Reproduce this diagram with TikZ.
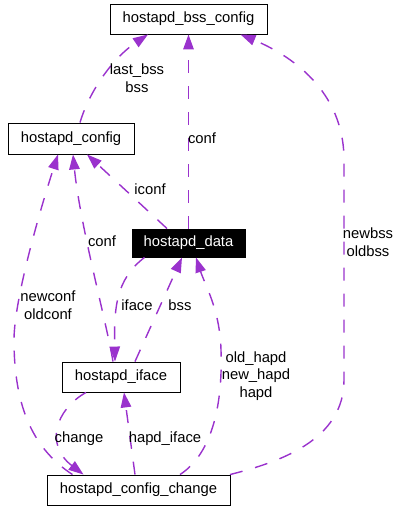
\documentclass[tikz,border=0pt]{standalone}
\usepackage{fontspec}
\setmainfont{Liberation Sans}
\usetikzlibrary{arrows.meta}
\definecolor{edgecol}{RGB}{154,50,205}
\begin{document}
\begin{tikzpicture}[x=1pt,y=-1pt,
  every node/.style={font=\fontsize{14.8}{17.5}\selectfont},
  box/.style={draw=black,line width=0.9pt,fill=white,inner sep=0pt,text=black},
  darkbox/.style={draw=black,line width=0.9pt,fill=black,inner sep=0pt,text=white},
  lbl/.style={inner sep=0pt,align=center},
  edge/.style={draw=edgecol,line width=1.4pt,dash pattern=on 13pt off 13pt,-{Triangle[length=15pt,width=10.5pt]}}]
\useasboundingbox (0,0) rectangle (394,506);
% nodes
\node[box, minimum width=157pt, minimum height=30pt] (bss) at (188.5,19) {hostapd\_bss\_config};
\node[box, minimum width=126pt, minimum height=31pt] (cfg) at (71,138.5) {hostapd\_config};
\node[darkbox, minimum width=113pt, minimum height=28pt] (data) at (188.5,243) {hostapd\_data};
\node[box, minimum width=118pt, minimum height=30pt] (iface) at (121,377) {hostapd\_iface};
\node[box, minimum width=183pt, minimum height=30pt] (chg) at (138.5,490) {hostapd\_config\_change};
% edges
\draw[edge] ([xshift=9pt]cfg.north) .. controls (88,95) and (110,60) .. ([xshift=-40.5pt]bss.south);
\draw[edge] (data.north) -- (bss.south);
\draw[edge] ([xshift=-0.5pt]chg.north east) .. controls (280,462) and (344,440) .. (344,380) -- (344,160) .. controls (344,90) and (290,55) .. ([xshift=52pt]bss.south);
\draw[edge] ([xshift=-21.5pt]data.north) -- ([xshift=16pt]cfg.south);
\draw[edge] ([xshift=-8pt]iface.north) .. controls (106,320) and (80,225) .. ([xshift=2pt]cfg.south);
\draw[edge] ([xshift=-66pt]chg.north) .. controls (35,450) and (14,410) .. (14,340) .. controls (14,300) and (40,210) .. ([xshift=-13pt]cfg.south);
\draw[edge] ([xshift=-44pt]data.south) .. controls (115,280) and (114,310) .. ([xshift=-6pt]iface.north);
\draw[edge] ([xshift=14pt]iface.north) -- ([xshift=-6.5pt]data.south);
\draw[edge] ([xshift=41.5pt]chg.north) .. controls (210,455) and (223,410) .. (221,350) .. controls (220,310) and (205,285) .. ([xshift=7.5pt]data.south);
\draw[edge] ([xshift=-35pt]iface.south) .. controls (55,410) and (45,445) .. ([xshift=-55pt]chg.north);
\draw[edge] ([xshift=-3.5pt]chg.north) -- ([xshift=3pt]iface.south);
% labels
\node[lbl] (l1) at (137,78) {last\_bss\\bss};
\node[lbl] (l2) at (202,138) {conf};
\node[lbl] (l3) at (368,242) {newbss\\oldbss};
\node[lbl] (l4) at (150,189) {iconf};
\node[lbl] (l5) at (102,241) {conf};
\node[lbl] (l6) at (48,305) {newconf\\oldconf};
\node[lbl] (l7) at (137,305) {iface};
\node[lbl] (l8) at (180,305) {bss};
\node[lbl] (l9) at (256,376) {old\_hapd\\new\_hapd\\hapd};
\node[lbl] (l10) at (79,439) {change};
\node[lbl] (l11) at (165,439) {hapd\_iface};
\end{tikzpicture}
\end{document}
